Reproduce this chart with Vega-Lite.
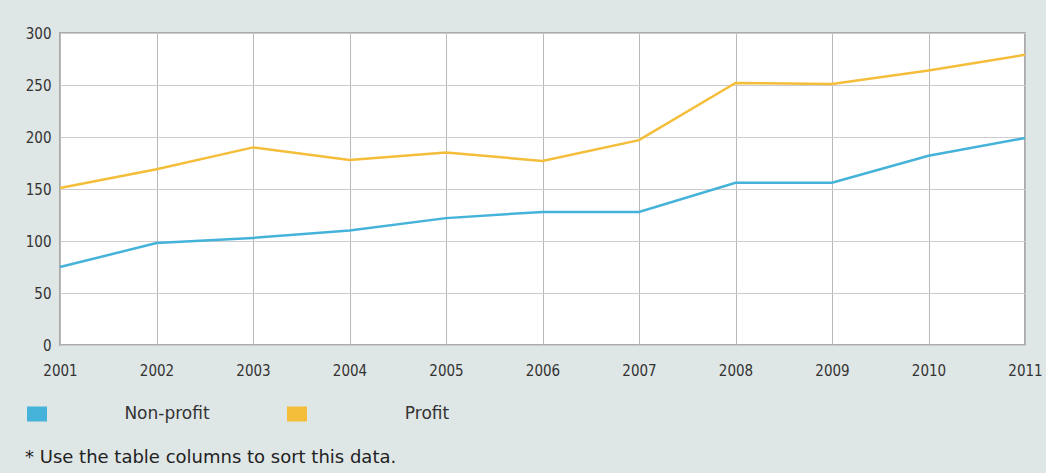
{
  "$schema": "https://vega.github.io/schema/vega-lite/v6.json",
  "width": 965,
  "height": 312,
  "autosize": {"type": "none"},
  "padding": {"left": 60, "top": 33, "right": 21, "bottom": 128},
  "background": "#dfe6e6",
  "data": {
    "values": [
      {"year": "2001", "sector": "Non-profit", "value": 75},
      {"year": "2002", "sector": "Non-profit", "value": 98},
      {"year": "2003", "sector": "Non-profit", "value": 103},
      {"year": "2004", "sector": "Non-profit", "value": 110},
      {"year": "2005", "sector": "Non-profit", "value": 122},
      {"year": "2006", "sector": "Non-profit", "value": 128},
      {"year": "2007", "sector": "Non-profit", "value": 128},
      {"year": "2008", "sector": "Non-profit", "value": 156},
      {"year": "2009", "sector": "Non-profit", "value": 156},
      {"year": "2010", "sector": "Non-profit", "value": 182},
      {"year": "2011", "sector": "Non-profit", "value": 199},
      {"year": "2001", "sector": "Profit", "value": 151},
      {"year": "2002", "sector": "Profit", "value": 169},
      {"year": "2003", "sector": "Profit", "value": 190},
      {"year": "2004", "sector": "Profit", "value": 178},
      {"year": "2005", "sector": "Profit", "value": 185},
      {"year": "2006", "sector": "Profit", "value": 177},
      {"year": "2007", "sector": "Profit", "value": 197},
      {"year": "2008", "sector": "Profit", "value": 252},
      {"year": "2009", "sector": "Profit", "value": 251},
      {"year": "2010", "sector": "Profit", "value": 264},
      {"year": "2011", "sector": "Profit", "value": 279}
    ]
  },
  "mark": {"type": "line", "strokeWidth": 2.5},
  "encoding": {
    "x": {
      "field": "year",
      "type": "ordinal",
      "scale": {"type": "point", "padding": 0},
      "axis": {
        "title": null,
        "labelAngle": 0,
        "domain": false,
        "ticks": false,
        "grid": true,
        "gridColor": "#b8b8b8",
        "gridWidth": 1,
        "labelPadding": 18,
        "labelFont": "DejaVu Sans Condensed",
        "labelFontSize": 15,
        "labelColor": "#333333"
      }
    },
    "y": {
      "field": "value",
      "type": "quantitative",
      "scale": {"domain": [0, 300]},
      "axis": {
        "title": null,
        "values": [0, 50, 100, 150, 200, 250, 300],
        "domain": false,
        "ticks": false,
        "grid": true,
        "gridColor": "#cccccc",
        "gridWidth": 1,
        "labelPadding": 9,
        "labelFont": "DejaVu Sans Condensed",
        "labelFontSize": 15,
        "labelColor": "#333333"
      }
    },
    "color": {
      "field": "sector",
      "type": "nominal",
      "scale": {"domain": ["Non-profit", "Profit"], "range": ["#45b3d9", "#f4bd3a"]},
      "legend": {
        "title": null,
        "orient": "none",
        "direction": "horizontal",
        "legendX": -33,
        "legendY": 371,
        "symbolType": "M-1,-0.75H1V0.75H-1Z",
        "symbolSize": 400,
        "symbolStrokeWidth": 0,
        "labelOffset": 120,
        "labelAlign": "center",
        "columnPadding": 77,
        "labelFont": "DejaVu Sans",
        "labelFontSize": 17,
        "labelColor": "#333333",
        "encode": {
          "symbols": {
            "update": {
              "fill": {"scale": "color", "field": "value"},
              "fillOpacity": {"value": 1},
              "strokeWidth": {"value": 0}
            }
          }
        }
      }
    }
  },
  "title": {
    "text": "* Use the table columns to sort this data.",
    "orient": "bottom",
    "anchor": "start",
    "frame": "group",
    "dx": -35,
    "offset": 27,
    "font": "DejaVu Sans",
    "fontSize": 18,
    "fontWeight": "normal",
    "color": "#222222"
  },
  "config": {
    "view": {"fill": "white", "stroke": "#aaaaaa", "strokeWidth": 2}
  }
}
